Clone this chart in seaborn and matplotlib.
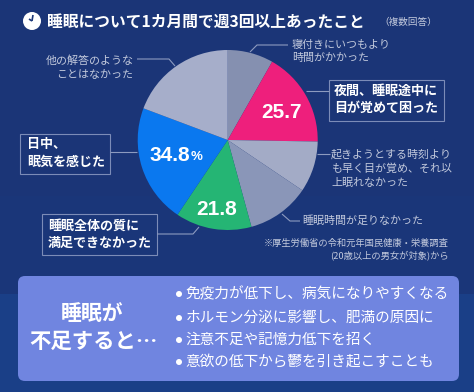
import matplotlib
matplotlib.use('Agg')
import matplotlib.pyplot as plt
from matplotlib.patches import Circle, FancyBboxPatch, Rectangle
import numpy as np
import seaborn as sns

sns.set_theme(style="white")
plt.rcParams['font.family'] = ['Noto Sans CJK JP', 'DejaVu Sans']

# slice sizes, clockwise from 12 o'clock (degrees of arc)
slice_names = ['寝付き', '夜間', '早朝', '睡眠時間', '全体の質', '日中', '他']
slice_sizes = [29.6, 61.4, 33, 40.7, 49.2, 76.7, 69.4]
slice_colors = ['#8590b0', '#ee1f7c', '#a3abc6', '#8a96b8', '#25b574', '#0a78ef', '#a6aeca']
value_labels = ['', '25.7', '', '', '21.8', '34.8', '']

title = '睡眠について1カ月間で週3回以上あったこと'
effects = ['免疫力が低下し、病気になりやすくなる', 'ホルモン分泌に影響し、肥満の原因に',
           '注意不足や記憶力低下を招く', '意欲の低下から鬱を引き起こすことも']

W, H = 474, 392
BG = '#1b3677'
fig = plt.figure(figsize=(W / 100, H / 100), dpi=100, facecolor=BG)

# overlay in pixel coordinates for all the annotation
ov = fig.add_axes([0, 0, 1, 1])
ov.axis('off')
grad = np.array([[0.0], [0.0], [0.15], [1.0]])
cmap = matplotlib.colors.LinearSegmentedColormap.from_list('bg', ['#1b3577', '#1a3f87'])
ov.imshow(grad, extent=[0, W, H, 0], cmap=cmap, aspect='auto', zorder=0)
ov.set_xlim(0, W)
ov.set_ylim(H, 0)

# pie
cx, cy, r = 227.7, 140, 90
ax = fig.add_axes([(cx - r) / W, 1 - (cy + r) / H, 2 * r / W, 2 * r / H])
ax.pie(slice_sizes, colors=slice_colors, startangle=90, counterclock=False, radius=1,
       labels=None, wedgeprops=dict(linewidth=0))
ax.set_xlim(-1, 1)
ax.set_ylim(-1, 1)
ax.patch.set_alpha(0)

top = fig.add_axes([0, 0, 1, 1])
top.set_xlim(0, W)
top.set_ylim(H, 0)
top.axis('off')
top.patch.set_alpha(0)

WHITE = '#ffffff'
GREY = '#c3cadd'
EDGE = '#7c8cb8'


def txt(x, y, s, size, color=WHITE, weight='normal', ha='left', **kw):
    top.text(x, y, s, fontsize=size, color=color, fontweight=weight, ha=ha, va='center', **kw)


def line(xs, ys, color='#8d9bc0', lw=0.8):
    top.plot(xs, ys, color=color, lw=lw, solid_capstyle='butt')


# title + clock icon
top.add_patch(Circle((32, 21), 9, fc=WHITE, ec='none'))
line([32, 33], [21, 15], color=BG, lw=1.2)
line([32, 29], [21, 19], color=BG, lw=1.2)
txt(47.5, 21.5, title, 11.3, weight='bold')
txt(379, 22.5, '（複数回答）', 6.9, color=GREY)

# plain labels
txt(292, 45, '寝付きにいつもより', 7.9, color=GREY)
txt(292, 57.5, '時間がかかった', 7.9, color=GREY)
line([250, 257, 288], [52, 45, 45])
txt(133.5, 60.5, '他の解答のような', 7.9, color=GREY, ha='right')
txt(133.5, 75, 'ことはなかった', 7.9, color=GREY, ha='right')
line([137, 169, 175], [59, 59, 66])
txt(331, 154, '起きようとする時刻より', 7.9, color=GREY)
txt(331, 169, 'も早く目が覚め、それ以', 7.9, color=GREY)
txt(331, 183, '上眠れなかった', 7.9, color=GREY)
line([317, 330], [154, 154])
txt(302, 221, '睡眠時間が足りなかった', 7.9, color=GREY)
line([282, 290, 300], [214, 221, 221])

# boxed labels
boxes = [
    ((329.5, 79.5), 115, 41, [(334, 91, '夜間、睡眠途中に'), (334, 108, '目が覚めて困った')]),
    ((20.5, 133.5), 90, 40, [(27, 144, '日中、'), (27, 162, '眠気を感じた')]),
    ((42.5, 213.5), 115, 41, [(48, 226, '睡眠全体の質に'), (48, 243, '満足できなかった')]),
]
for xy, w, h, rows in boxes:
    top.add_patch(Rectangle(xy, w, h, fc='none', ec=EDGE, lw=0.8))
    for x, y, s in rows:
        txt(x, y, s, 9.4, weight='bold')
line([306, 329], [91, 91])
line([110, 137], [152, 152])
line([157, 193, 199], [234, 234, 227])

# value labels
num = ['Liberation Sans']
for s, x, y in [(value_labels[1], 282, 112), (value_labels[4], 216.5, 209), (value_labels[5], 169.5, 155)]:
    txt(x, y, s, 15, weight='bold', ha='center', family=num)
txt(190.5, 157, '%', 9.5, weight='bold', family=num)

# note
txt(449, 243, '※厚生労働省の令和元年国民健康・栄養調査', 6.7, color=GREY, ha='right')
txt(449, 255, '(20歳以上の男女が対象)から', 6.7, color=GREY, ha='right')

# bottom panel
top.add_patch(FancyBboxPatch((18, 276), 441, 105, boxstyle='round,pad=0,rounding_size=7',
                             fc='#7085e0', ec='none'))
txt(92, 313, '睡眠が', 15, weight='bold', ha='center')
txt(93.5, 341, '不足すると…', 15.4, weight='bold', ha='center')
for y, s in zip([294, 318, 340, 362], effects):
    top.add_patch(Circle((179, y), 3, fc=WHITE, ec='none'))
    txt(185.5, y, s, 10.55)

fig.savefig('out.png', dpi=100, facecolor=fig.get_facecolor())
